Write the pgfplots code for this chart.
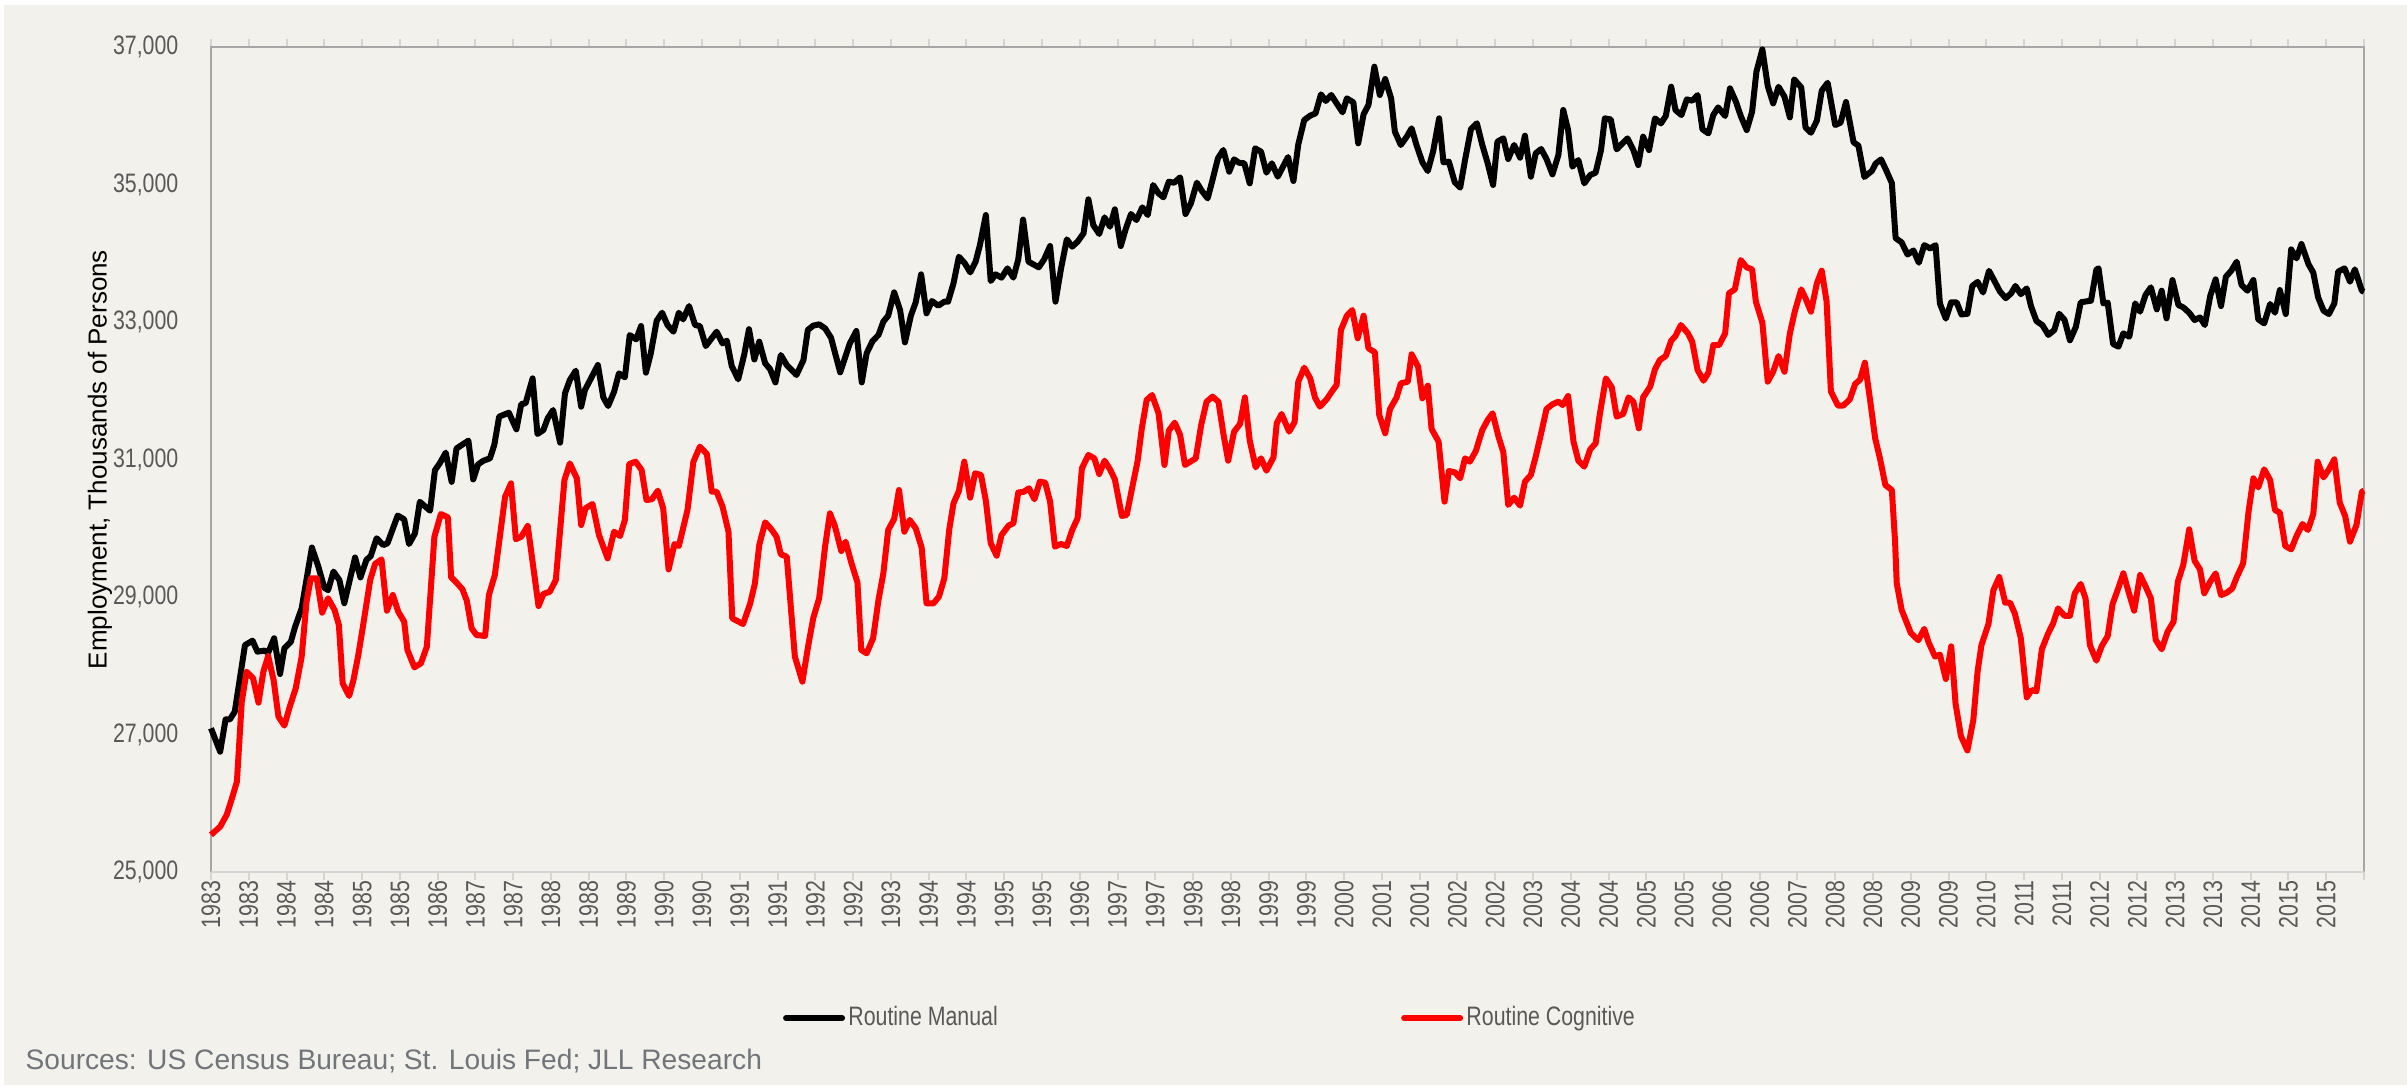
\documentclass[border=0pt]{standalone}
\usepackage{pgfplots}
\pgfplotsset{compat=1.18}
\usepackage{fontspec}
\setmainfont{Liberation Sans}
\newfontfamily\narrow{Liberation Sans}[FakeStretch=0.8]
\definecolor{bg}{RGB}{243,241,236}
\definecolor{tickc}{RGB}{89,89,89}
\definecolor{framec}{RGB}{166,166,166}
\definecolor{basec}{RGB}{212,212,212}
\definecolor{srcc}{RGB}{112,117,122}
\definecolor{rc}{RGB}{255,0,0}
\begin{document}
\begin{tikzpicture}
\fill[white] (0,0) rectangle (722.1pt,-326.1pt);
\fill[bg] (1.2pt,-1.5pt) rectangle (722.1pt,-325.5pt);
\begin{axis}[
  scale only axis, width=645.9pt, height=247.5pt,
  at={(63.3pt,-261.6pt)}, anchor=south west,
  xmin=0, xmax=399, ymin=25000, ymax=37000,
  clip=false,
  axis line style={draw=none},
  xtick={0,7,...,399},
  xticklabels={1983,1983,1984,1984,1985,1985,1986,1987,1987,1988,1988,1989,1990,1990,1991,1991,1992,1992,1993,1994,1994,1995,1995,1996,1997,1997,1998,1998,1999,1999,2000,2001,2001,2002,2002,2003,2004,2004,2005,2005,2006,2006,2007,2008,2008,2009,2009,2010,2011,2011,2012,2012,2013,2013,2014,2015,2015,{}},
  ytick={25000,27000,29000,31000,33000,35000,37000},
  scaled y ticks=false,
  /pgf/number format/1000 sep={,},
  /pgf/number format/assume math mode=true,
  tick align=outside,
  major tick length=2.4pt,
  x tick style={draw=basec, line width=0.6pt},
  y tick style={draw=none},
  yticklabel style={font=\narrow\fontsize{8}{9}\selectfont, text=tickc, anchor=east, inner sep=0pt, xshift=-7.2pt},
  xticklabel style={font=\narrow\fontsize{8}{9}\selectfont, text=tickc, rotate=90, anchor=east, inner sep=0pt},
  ylabel={Employment, Thousands of Persons},
  ylabel style={font=\fontsize{7.8}{9}\selectfont, text=black, at={(axis description cs:-0.0516,0.5)}, anchor=center},
  legend columns=2,
  legend style={at={(axis description cs:0.2657,-0.177)}, anchor=west, draw=none, fill=none, inner sep=0pt, outer sep=0pt,
    font=\narrow\fontsize{8}{9}\selectfont, text=tickc,
    nodes={inner sep=1pt},
    /tikz/every even column/.append style={column sep=120pt}},
  legend image code/.code={\draw[#1, line cap=round] (0pt,0pt) -- (16.8pt,0pt);},
]
\draw[framec, line width=0.6pt] (rel axis cs:0,0) -- (rel axis cs:0,1) -- (rel axis cs:1,1) -- (rel axis cs:1,0);
\draw[basec, line width=0.6pt] (rel axis cs:0,0) -- (rel axis cs:1,0);
\addplot[black, line width=1.8pt, line join=round] table {
x y
0 27090
1.7 26750
2.7 27220
3.5 27220
4.4 27330
6.3 28300
7.7 28365
8.6 28205
9.9 28220
10.6 28190
11.7 28400
12.8 27880
13.6 28255
14.8 28350
15.6 28570
16.8 28835
18.7 29720
19.9 29440
21.0 29135
21.7 29100
22.7 29370
23.8 29245
24.7 28910
26.7 29575
27.7 29285
28.8 29540
29.6 29595
30.7 29855
31.9 29755
32.7 29780
34.6 30185
35.8 30130
36.7 29770
37.8 29925
38.7 30385
40.6 30255
41.5 30845
42.4 30945
43.5 31100
44.6 30675
45.5 31160
47.7 31275
48.6 30710
49.5 30930
50.5 30983
51.7 31017
52.5 31211
53.4 31623
55.2 31681
56.6 31439
57.5 31807
58.3 31817
59.6 32180
60.5 31371
61.6 31429
62.4 31599
63.4 31720
64.7 31245
65.6 31962
66.5 32156
67.6 32292
68.6 31768
69.3 32011
71.7 32374
72.7 31904
73.6 31778
74.7 31986
75.6 32253
76.7 32195
77.6 32810
78.8 32747
79.7 32941
80.6 32263
81.5 32544
82.6 33019
83.6 33135
84.6 32956
85.7 32859
86.7 33135
87.5 33038
88.6 33232
89.7 32956
90.6 32941
91.7 32650
93.7 32859
94.8 32689
95.6 32728
96.5 32360
97.7 32166
98.8 32520
99.7 32895
100.7 32455
101.6 32714
102.7 32399
103.6 32316
104.6 32122
105.6 32520
106.7 32374
108.5 32229
109.8 32447
110.6 32884
111.6 32947
112.7 32966
113.8 32908
114.9 32772
116.6 32268
118.4 32690
119.6 32869
120.6 32122
121.5 32544
122.6 32724
123.7 32811
124.6 33005
125.5 33092
126.6 33431
127.7 33174
128.6 32704
129.7 33092
130.6 33286
131.6 33693
132.6 33126
133.6 33305
134.8 33237
135.9 33296
136.6 33296
137.6 33562
138.6 33950
139.7 33853
140.7 33722
141.7 33877
142.5 34120
143.6 34556
144.5 33596
145.4 33693
146.5 33645
147.6 33780
148.7 33645
149.6 33910
150.5 34490
151.5 33877
153.4 33795
154.4 33911
155.5 34105
156.5 33296
157.5 33766
158.6 34202
159.6 34096
160.6 34168
161.7 34290
162.6 34784
163.5 34411
164.6 34280
165.6 34522
166.6 34386
167.5 34639
168.6 34105
169.5 34348
170.5 34571
171.5 34483
172.6 34668
173.6 34556
174.6 34992
175.6 34871
176.5 34813
177.5 35041
178.5 35026
179.6 35104
180.6 34571
181.6 34726
182.7 35026
183.6 34910
184.7 34798
185.6 35065
186.6 35380
187.6 35502
188.7 35186
189.6 35366
190.5 35317
191.5 35308
192.5 35017
193.5 35526
194.6 35477
195.6 35172
196.6 35308
197.7 35114
199.6 35400
200.6 35051
201.5 35584
202.6 35938
203.7 36001
204.7 36035
205.7 36311
206.6 36215
207.6 36302
208.6 36181
209.7 36050
210.5 36253
211.7 36195
212.6 35599
213.6 36021
214.5 36156
215.6 36714
216.6 36302
217.6 36534
218.7 36253
219.4 35768
220.5 35575
221.6 35696
222.5 35817
223.4 35575
224.5 35323
225.5 35196
226.5 35487
227.6 35962
228.4 35323
229.4 35332
230.5 35032
231.5 34954
232.4 35356
233.5 35807
234.6 35890
235.6 35575
236.6 35308
237.6 34993
238.4 35623
239.5 35672
240.4 35371
241.5 35575
242.6 35390
243.5 35710
244.6 35114
245.5 35453
246.5 35516
247.5 35371
248.6 35148
249.7 35428
250.6 36084
251.5 35792
252.3 35259
253.4 35356
254.5 35016
255.6 35138
256.6 35172
257.6 35501
258.3 35962
259.4 35947
260.5 35511
262.5 35671
263.6 35501
264.5 35283
265.4 35695
266.5 35501
267.6 35962
268.7 35889
269.6 35996
270.6 36422
271.4 36083
272.5 36010
273.5 36238
274.5 36219
275.5 36301
276.4 35802
277.5 35744
278.4 36010
279.3 36122
280.6 35996
281.5 36398
282.6 36204
283.5 35996
284.6 35792
285.6 36059
286.4 36640
287.5 36965
288.5 36432
289.5 36180
290.5 36422
291.6 36277
292.6 35976
293.4 36529
294.7 36413
295.5 35831
296.5 35753
297.6 35928
298.5 36364
299.6 36480
301.0 35865
302.0 35900
303.0 36200
304.4 35614
305.3 35566
306.4 35109
307.8 35198
308.5 35305
309.5 35365
310.5 35198
311.5 35020
312.2 34219
313.3 34159
314.4 33981
315.5 34041
316.5 33862
317.5 34118
318.6 34070
319.6 34118
320.4 33269
321.5 33049
322.5 33287
323.5 33287
324.4 33109
325.5 33120
326.4 33524
327.4 33583
328.4 33429
329.5 33744
330.6 33583
331.5 33447
332.6 33346
333.6 33417
334.4 33524
335.4 33405
336.5 33488
337.3 33227
338.3 33013
339.4 32954
340.5 32812
341.6 32883
342.5 33120
343.5 33031
344.5 32734
345.6 32930
346.5 33287
348.4 33310
349.4 33762
349.8 33780
350.7 33271
351.5 33281
352.5 32680
353.5 32641
354.4 32835
355.5 32786
356.6 33271
357.5 33150
358.5 33392
359.5 33504
360.6 33184
361.5 33455
362.4 33053
363.5 33610
364.6 33247
365.5 33213
366.6 33135
367.6 33029
368.6 33067
369.5 32956
370.5 33378
371.5 33620
372.5 33232
373.4 33659
374.4 33746
375.4 33877
376.3 33538
377.4 33455
378.5 33610
379.4 33038
380.5 32980
381.6 33262
382.5 33135
383.4 33465
384.5 33116
385.5 34056
386.5 33925
387.4 34134
388.7 33843
389.6 33717
390.5 33358
391.5 33165
392.5 33116
393.5 33271
394.2 33732
395.4 33780
396.4 33586
397.3 33766
398.6 33455
399 33440
};
\addlegendentry{Routine Manual}
\addplot[rc, line width=1.8pt, line join=round] table {
x y
0 25540
1.7 25660
2.9 25830
3.8 26050
4.8 26314
5.7 27478
6.6 27914
7.8 27817
8.8 27463
9.7 27914
10.6 28142
11.6 27793
12.5 27260
13.6 27129
14.6 27405
15.7 27672
16.8 28132
17.7 28932
18.5 29272
19.6 29272
20.6 28772
21.7 28981
22.9 28811
23.7 28593
24.4 27744
25.6 27560
26.4 27793
27.3 28157
28.2 28593
29.5 29247
30.4 29480
31.6 29548
32.6 28801
33.7 29029
34.7 28787
35.8 28641
36.4 28229
37.7 27977
38.9 28035
40.0 28278
41.4 29877
42.6 30207
43.9 30159
44.5 29286
45.5 29209
46.6 29112
47.4 28947
48.3 28544
49.2 28447
50.8 28433
51.5 29029
52.6 29320
54.5 30459
55.6 30653
56.5 29839
57.5 29878
58.7 30033
60.7 28869
61.6 29044
62.8 29078
63.9 29247
65.5 30702
66.5 30944
67.8 30726
68.6 30047
69.4 30290
70.7 30353
71.9 29902
73.5 29562
74.7 29950
75.8 29887
76.7 30120
77.5 30934
78.7 30968
79.8 30847
80.7 30411
81.7 30421
82.8 30547
83.8 30290
84.8 29402
85.9 29771
86.7 29742
88.3 30265
89.4 30968
90.6 31187
91.9 31080
92.8 30532
93.7 30532
94.8 30314
95.9 29950
96.6 28690
98.6 28607
99.9 28900
100.8 29199
101.6 29756
102.7 30086
103.8 29989
104.8 29878
105.6 29621
106.7 29587
108.2 28133
109.6 27769
110.7 28302
111.6 28690
112.7 28981
113.8 29732
114.7 30217
115.6 30038
116.8 29669
117.6 29805
118.7 29490
119.8 29213
120.5 28230
121.5 28181
122.7 28399
123.7 28957
124.6 29344
125.5 29975
126.6 30135
127.5 30556
128.5 29950
129.5 30120
130.6 29999
131.7 29718
132.6 28908
133.9 28908
134.9 29005
135.9 29271
136.8 29975
137.6 30363
138.6 30542
139.6 30969
140.7 30445
141.6 30799
142.7 30775
143.6 30397
144.5 29781
145.6 29601
146.5 29902
147.8 30038
148.7 30072
149.6 30520
150.6 30530
151.6 30581
152.6 30421
153.6 30678
154.6 30663
155.5 30387
156.4 29732
157.5 29771
158.6 29742
159.6 29975
160.6 30145
161.4 30872
162.6 31066
163.7 31017
164.6 30789
165.6 30983
166.6 30857
167.5 30712
168.8 30179
169.7 30193
170.6 30547
171.7 30968
172.5 31454
173.4 31866
174.4 31938
175.6 31672
176.7 30920
177.5 31420
178.6 31536
179.6 31356
180.5 30920
182.5 31017
183.5 31502
184.5 31841
185.6 31914
186.7 31841
187.6 31381
188.5 30983
189.6 31405
190.7 31517
191.6 31904
192.5 31274
193.6 30886
194.6 31017
195.6 30837
196.9 31032
197.5 31526
198.4 31662
199.8 31405
200.8 31541
201.5 32132
202.6 32336
203.7 32181
204.6 31900
205.5 31769
206.8 31880
207.7 31987
208.6 32084
209.4 32884
210.5 33092
211.5 33175
212.5 32763
213.6 33092
214.5 32617
215.7 32559
216.5 31648
217.6 31381
218.5 31735
219.7 31900
220.5 32108
221.8 32132
222.5 32530
223.7 32351
224.5 31890
225.5 32074
226.2 31444
227.5 31260
228.6 30387
229.4 30833
230.5 30814
231.5 30727
232.4 31017
233.3 30969
234.4 31124
235.6 31429
236.6 31575
237.5 31672
238.6 31332
239.5 31104
240.4 30339
241.5 30445
242.6 30329
243.5 30678
244.6 30775
245.5 31042
246.5 31381
247.5 31735
248.6 31803
249.7 31842
250.5 31792
251.5 31923
252.5 31259
253.4 30983
254.5 30896
255.6 31148
256.6 31235
257.4 31671
258.5 32180
259.6 32049
260.5 31623
261.7 31662
262.7 31904
263.6 31841
264.6 31453
265.4 31904
266.7 32059
267.6 32311
268.5 32447
269.6 32505
270.6 32728
271.4 32796
272.4 32956
273.7 32835
274.5 32713
275.5 32301
276.6 32146
277.5 32262
278.4 32665
279.5 32665
280.6 32835
281.3 33417
282.4 33475
283.5 33901
284.6 33795
285.6 33766
286.3 33295
287.5 32990
288.5 32132
289.5 32277
290.5 32505
291.6 32277
292.6 32835
293.5 33150
294.7 33475
295.5 33344
296.5 33150
297.6 33562
298.5 33746
299.4 33300
300.2 31990
301.5 31785
302.5 31785
303.7 31874
304.7 32099
305.6 32159
306.5 32408
307.5 31844
308.4 31310
309.3 31013
310.3 30627
311.5 30556
312.1 29796
312.4 29202
313.3 28816
315.0 28478
316.4 28371
317.5 28537
318.3 28341
319.5 28133
320.4 28163
321.5 27807
322.5 28282
323.3 27451
324.3 26976
325.5 26768
326.6 27213
327.4 27926
328.1 28300
329.4 28608
330.3 29095
331.4 29291
332.5 28917
333.4 28917
334.3 28757
335.4 28400
336.5 27540
337.4 27646
338.3 27629
339.3 28240
340.4 28460
341.4 28620
342.3 28834
343.5 28727
344.5 28727
345.4 29053
346.5 29190
347.4 28976
348.2 28300
349.4 28074
350.4 28287
351.5 28433
352.4 28898
353.3 29092
354.4 29344
355.3 29092
356.4 28801
357.5 29320
358.4 29174
359.5 28981
360.4 28375
361.5 28239
362.6 28496
363.7 28641
364.5 29223
365.5 29465
366.6 29984
367.6 29528
368.6 29402
369.4 29054
370.5 29223
371.5 29344
372.5 29029
373.6 29063
374.6 29126
375.4 29286
376.6 29490
377.6 30241
378.5 30726
379.4 30595
380.5 30857
381.6 30702
382.5 30265
383.4 30227
384.4 29742
385.5 29693
386.5 29887
387.6 30062
388.6 29975
389.6 30207
390.4 30968
391.5 30740
392.5 30857
393.5 31002
394.5 30372
395.5 30178
396.4 29805
397.6 30047
398.6 30532
399 30547
};
\addlegendentry{Routine Cognitive}
\end{axis}
\node[anchor=base west, inner sep=0pt, text=srcc, font=\fontsize{8.45}{10}\selectfont] at (7.5pt,-320.7pt) {Sources: US Census Bureau; St. Louis Fed; JLL Research};
\pgfresetboundingbox
\path (0,0) rectangle (722.1pt,-326.1pt);
\end{tikzpicture}
\end{document}
